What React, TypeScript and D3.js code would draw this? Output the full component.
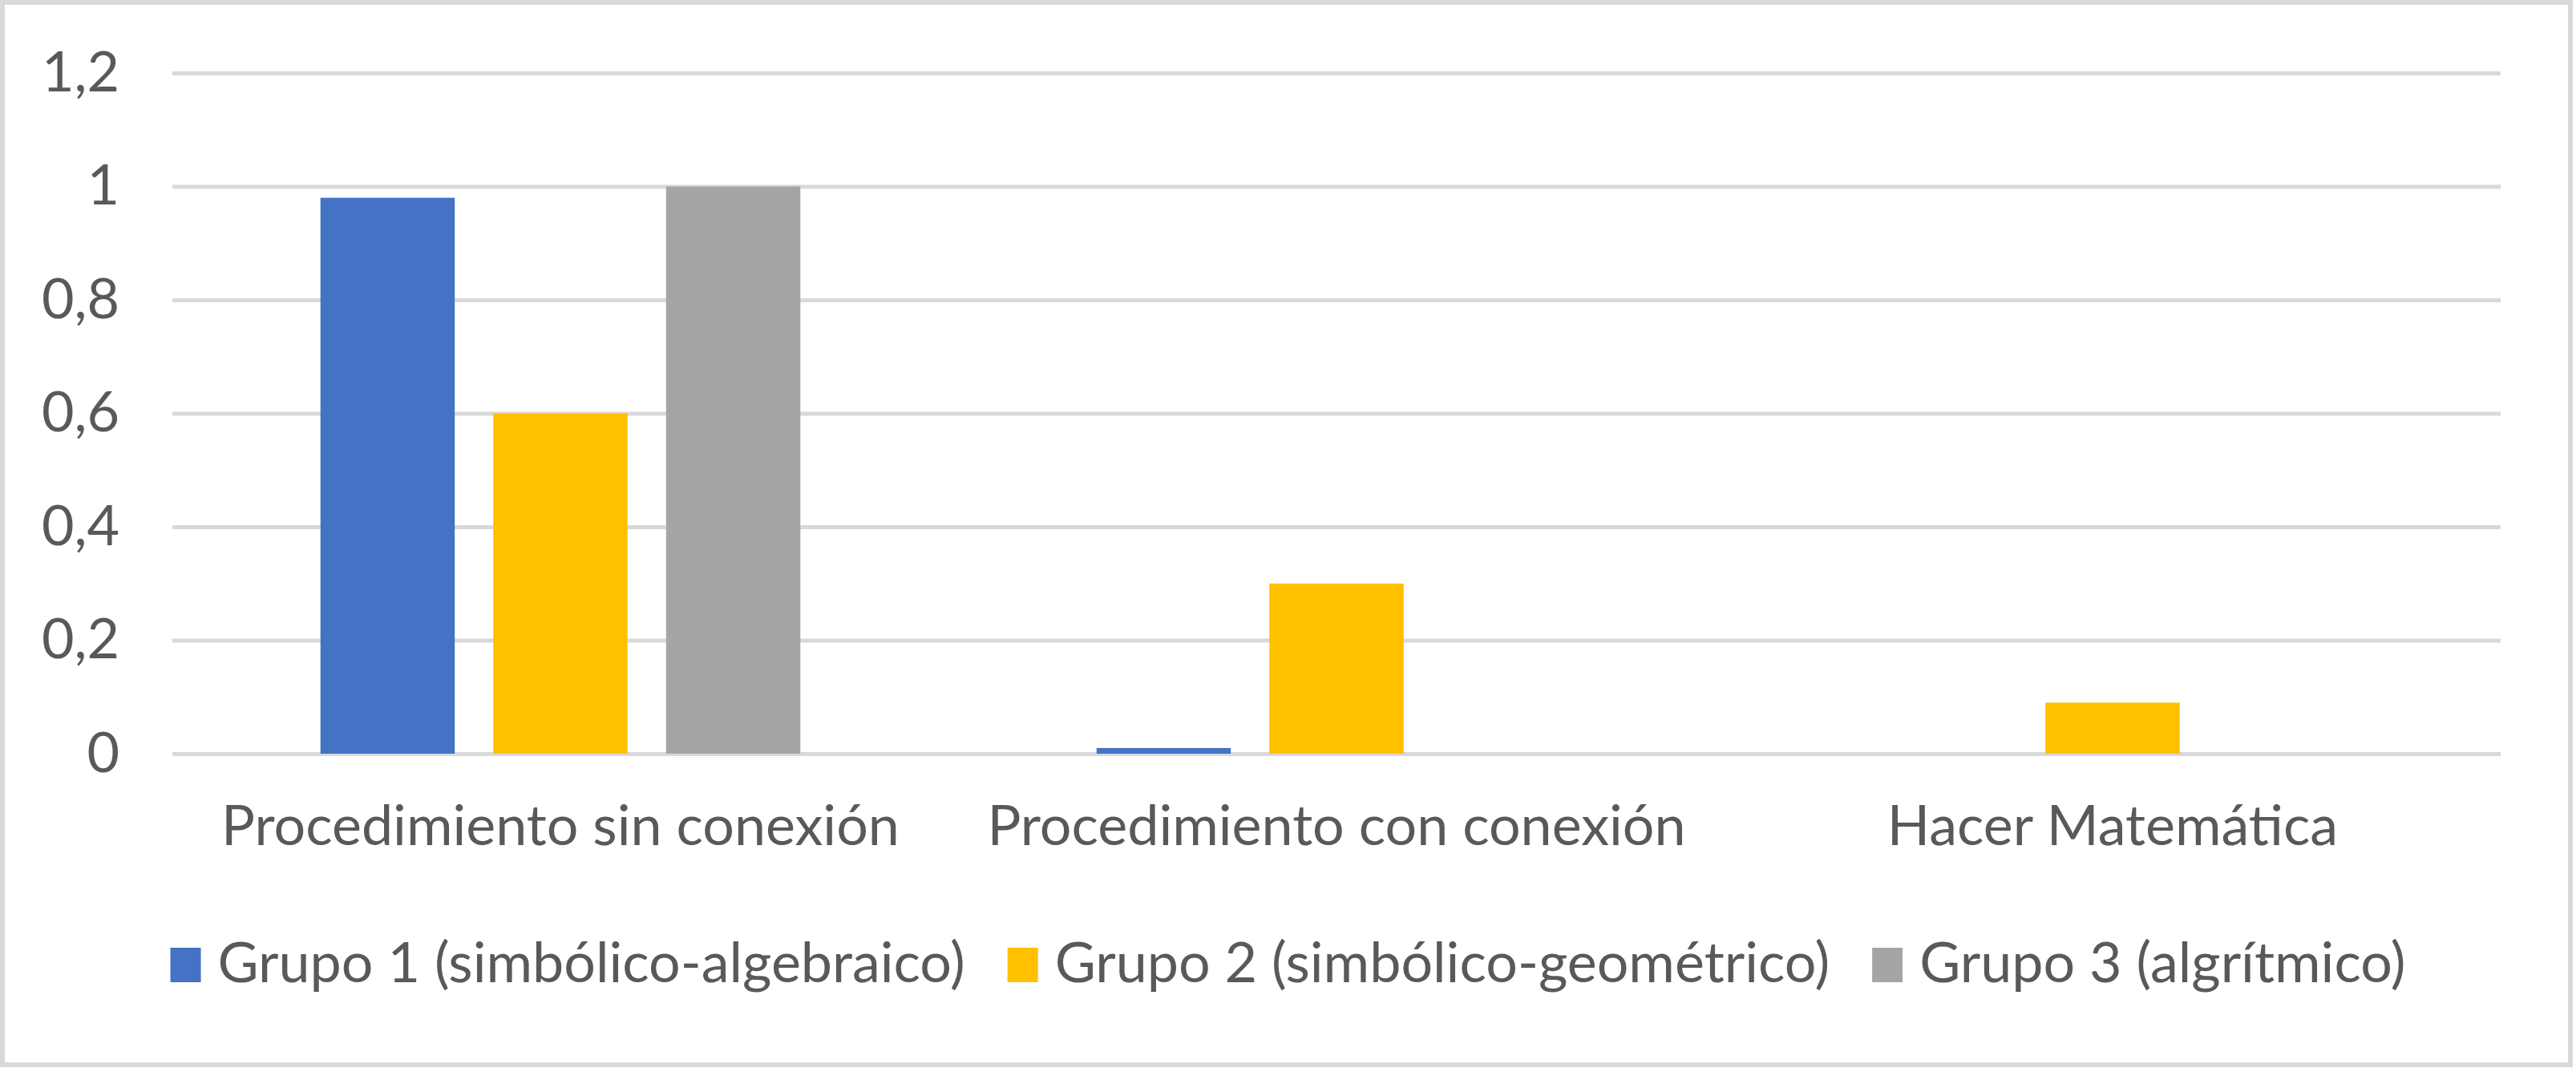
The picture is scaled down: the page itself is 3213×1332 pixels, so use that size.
import React from "react";
import { select, scaleBand, scaleLinear, axisLeft } from "d3";

const categories = [
  "Procedimiento sin conexión",
  "Procedimiento con conexión",
  "Hacer Matemática",
];
const seriesNames = [
  "Grupo 1 (simbólico-algebraico)",
  "Grupo 2 (simbólico-geométrico)",
  "Grupo 3 (algrítmico)",
];
const grupo1 = [0.98, 0.01, 0];
const grupo2 = [0.6, 0.3, 0.09];
const grupo3 = [1, 0, 0];
const yTicks = [0, 0.2, 0.4, 0.6, 0.8, 1, 1.2];
const colors = ["#4472C4", "#FFC000", "#A5A5A5"];

const W = 3213;
const H = 1332;
const FONT = "Lato, 'Open Sans', sans-serif";
const FONT_SIZE = 70;
const TEXT_COLOR = "#595959";

export default function App() {
  const svgRef = React.useRef<SVGSVGElement>(null);

  React.useLayoutEffect(() => {
    const svg = select(svgRef.current);
    svg.selectAll("*").remove();

    const margin = { top: 91, right: 94, bottom: 392, left: 215 };
    const plotBottom = H - margin.bottom;
    const values = [grupo1, grupo2, grupo3];

    // frame
    svg
      .append("rect")
      .attr("width", W)
      .attr("height", H)
      .attr("fill", "#ffffff");
    svg
      .append("rect")
      .attr("x", 3)
      .attr("y", 3)
      .attr("width", W - 10)
      .attr("height", H - 7)
      .attr("fill", "none")
      .attr("stroke", "#d9d9d9")
      .attr("stroke-width", 6);

    const x0 = scaleBand<string>()
      .domain(categories)
      .range([margin.left, W - margin.right]);
    const clusterW = 646;
    const x1 = scaleBand<string>()
      .domain(seriesNames)
      .range([0, clusterW])
      .paddingInner(0.223)
      .paddingOuter(0.11);
    const y = scaleLinear().domain([0, 1.2]).range([plotBottom, margin.top]);

    // gridlines + y labels
    const yAxis = svg
      .append("g")
      .attr("transform", `translate(${margin.left},0)`)
      .call(
        axisLeft(y)
          .tickValues(yTicks)
          .tickSize(-(W - margin.left - margin.right))
          .tickPadding(66)
          .tickFormat((d) => String(d).replace(".", ","))
      );
    yAxis.select(".domain").remove();
    yAxis
      .selectAll(".tick line")
      .attr("stroke", "#d9d9d9")
      .attr("stroke-width", 5);
    yAxis
      .selectAll(".tick text")
      .attr("fill", TEXT_COLOR)
      .style("font-family", FONT)
      .style("font-size", `${FONT_SIZE}px`);

    // bars
    const groups = svg
      .append("g")
      .selectAll("g")
      .data(categories)
      .join("g")
      .attr(
        "transform",
        (c) => `translate(${(x0(c) ?? 0) + (x0.bandwidth() - clusterW) / 2},0)`
      );
    groups
      .selectAll("rect")
      .data((c, ci) =>
        seriesNames.map((s, si) => ({ s, si, v: values[si][ci] }))
      )
      .join("rect")
      .attr("x", (d) => x1(d.s) ?? 0)
      .attr("y", (d) => y(d.v))
      .attr("width", x1.bandwidth())
      .attr("height", (d) => plotBottom - y(d.v))
      .attr("fill", (d) => colors[d.si]);

    // category labels
    svg
      .append("g")
      .selectAll("text")
      .data(categories)
      .join("text")
      .attr("x", (c) => (x0(c) ?? 0) + x0.bandwidth() / 2)
      .attr("y", 1054)
      .attr("text-anchor", "middle")
      .attr("fill", TEXT_COLOR)
      .style("font-family", FONT)
      .style("font-size", `${FONT_SIZE}px`)
      .text((c) => c);

    // legend
    const legend = svg.append("g");
    const swW = 38;
    const swH = 43;
    const swGap = 21;
    const itemGap = 53;
    const items = legend
      .selectAll("g")
      .data(seriesNames)
      .join("g");
    items
      .append("rect")
      .attr("y", 1182)
      .attr("width", swW)
      .attr("height", swH)
      .attr("fill", (_, i) => colors[i]);
    items
      .append("text")
      .attr("x", swW + swGap)
      .attr("y", 1225)
      .attr("fill", TEXT_COLOR)
      .style("font-family", FONT)
      .style("font-size", `${FONT_SIZE}px`)
      .text((d) => d);
    const widths: number[] = [];
    items.each(function () {
      const t = select(this).select("text").node() as SVGTextElement;
      widths.push(swW + swGap + t.getComputedTextLength());
    });
    const total =
      widths.reduce((a, b) => a + b, 0) + itemGap * (widths.length - 1);
    let cx = (W - total) / 2;
    items.each(function (_, i) {
      select(this).attr("transform", `translate(${cx},0)`);
      cx += widths[i] + itemGap;
    });

    return () => {
      svg.selectAll("*").remove();
    };
  }, []);

  return (
    <svg
      ref={svgRef}
      width={W}
      height={H}
      style={{ position: "absolute", left: 0, top: 0, display: "block" }}
    />
  );
}
